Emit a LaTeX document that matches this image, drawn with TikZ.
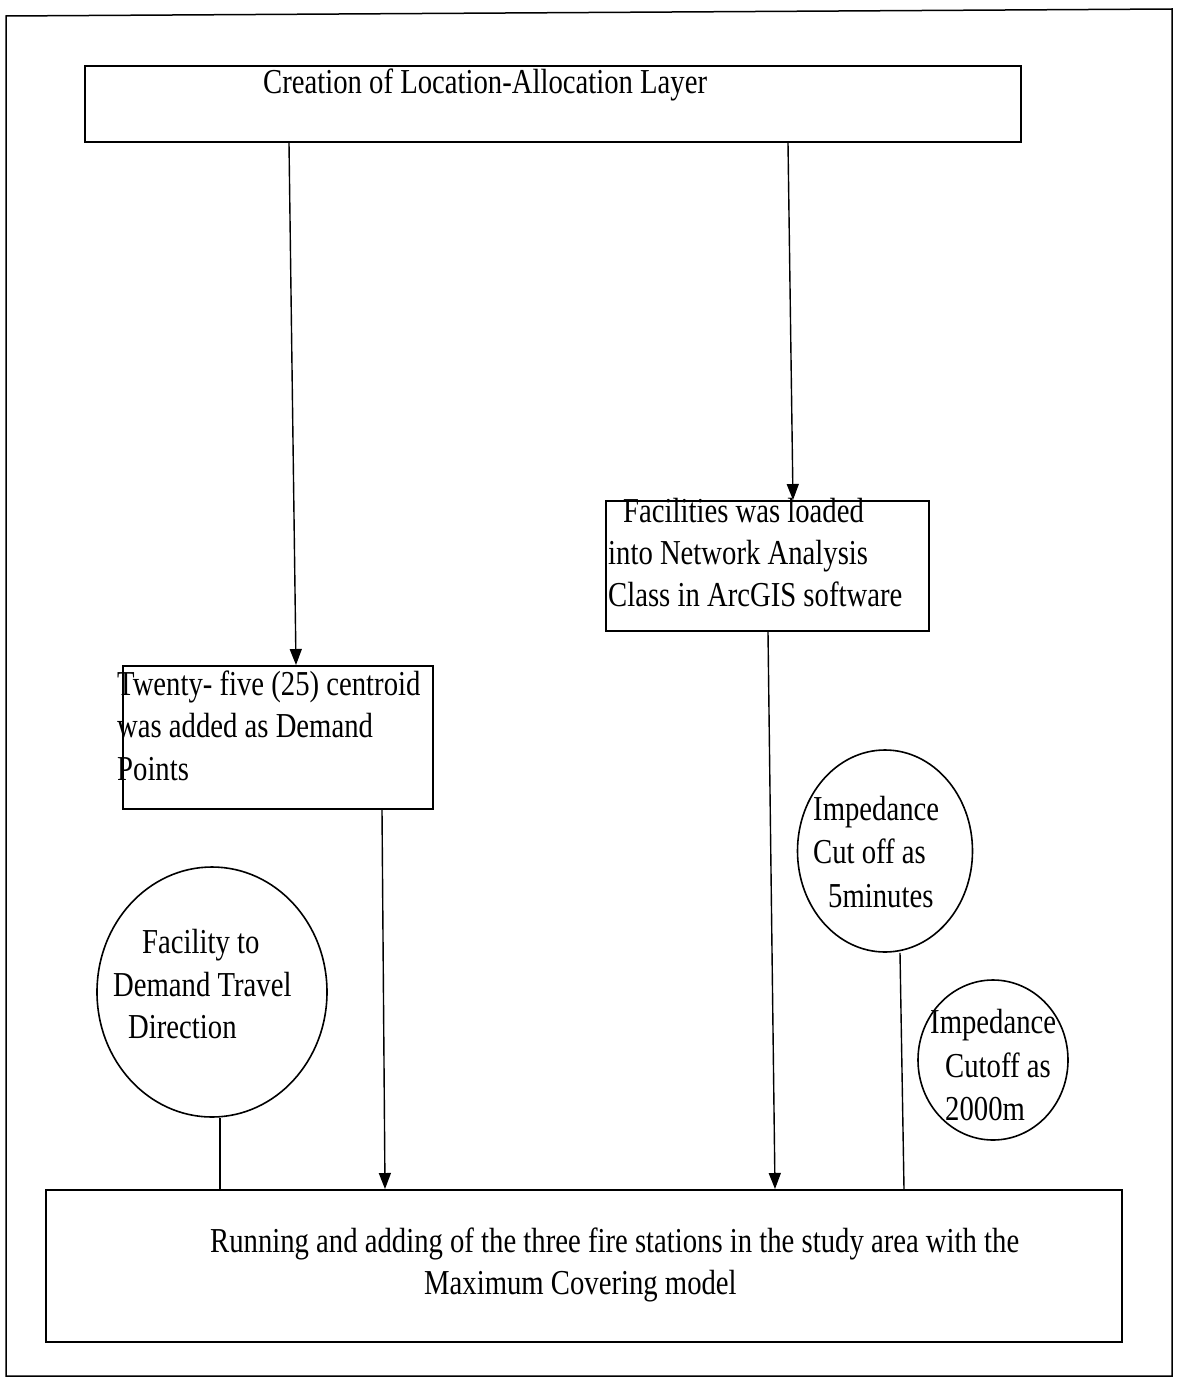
\documentclass[tikz,border=0pt]{standalone}
\usepackage{fontspec}
\setmainfont{Liberation Serif}[FakeStretch=0.82]
\usetikzlibrary{arrows.meta,shapes.geometric}
\begin{document}
\begin{tikzpicture}[x=1pt,y=-1pt,
  box/.style={draw, line width=2.2pt, inner sep=0pt, anchor=north west},
  bubble/.style={draw, ellipse, line width=1.6pt, inner sep=0pt},
  conn/.style={line width=1.4pt},
  arr/.style={conn, -{Triangle[width=12pt,length=16pt]}},
  txt/.style={anchor=base west, inner sep=0pt, font=\fontsize{35}{42}\selectfont},
]
\useasboundingbox (0,0) rectangle (1176,1378);
\draw[line width=1.5pt] (6,16) -- (1172,9) -- (1172,1376) -- (6,1376) -- cycle;

% boxes
\node[box, minimum width=936pt, minimum height=76pt] (top) at (84,65) {};
\node[box, minimum width=323pt, minimum height=130pt] (fac) at (605,500) {};
\node[box, minimum width=310pt, minimum height=143pt] (twenty) at (122,665) {};
\node[box, minimum width=1076pt, minimum height=152pt] (run) at (45,1189) {};

% ellipses
\node[bubble, minimum width=230pt, minimum height=250pt] (fdir) at (212,992) {};
\node[bubble, minimum width=175pt, minimum height=202pt] (imp1) at (885,851) {};
\node[bubble, minimum width=150pt, minimum height=160pt] (imp2) at (993,1060) {};

% texts
\node[txt] (t0) at (263,94) {Creation of Location-Allocation Layer};

\node[txt] (f1) at (623,522) {Facilities was loaded};
\node[txt] (f2) at (608,564) {into Network Analysis};
\node[txt] (f3) at (608,606) {Class in ArcGIS software};

\node[txt] (w1) at (117,695) {Twenty- five (25) centroid};
\node[txt] (w2) at (117,737) {was added as Demand};
\node[txt] (w3) at (117,780) {Points};

\node[txt] (d1) at (142,953) {Facility to};
\node[txt] (d2) at (113,996) {Demand Travel};
\node[txt] (d3) at (128,1038) {Direction};

\node[txt] (i1) at (813,820) {Impedance};
\node[txt] (i2) at (813,863) {Cut off as};
\node[txt] (i3) at (828,907) {5minutes};

\node[txt] (j1) at (930,1033) {Impedance};
\node[txt] (j2) at (945,1077) {Cutoff as};
\node[txt] (j3) at (945,1120) {2000m};

\node[txt] (r1) at (210,1252) {Running and adding of the three fire stations in the study area with the};
\node[txt] (r2) at (424,1294) {Maximum Covering model};

% connectors
\draw[arr] ([xshift=205pt]top.south west) -- ([xshift=174pt]twenty.north west);
\draw[arr] ([xshift=704pt]top.south west) -- ([xshift=188pt]fac.north west);
\draw[arr] ([xshift=260pt]twenty.south west) -- ([xshift=340pt]run.north west);
\draw[arr] ([xshift=163pt]fac.south west) -- ([xshift=730pt]run.north west);
\draw[conn] ([xshift=8pt]fdir.south) -- ([xshift=175pt]run.north west);
\draw[conn] ([xshift=15pt]imp1.south) -- ([xshift=859pt]run.north west);
\end{tikzpicture}
\end{document}
